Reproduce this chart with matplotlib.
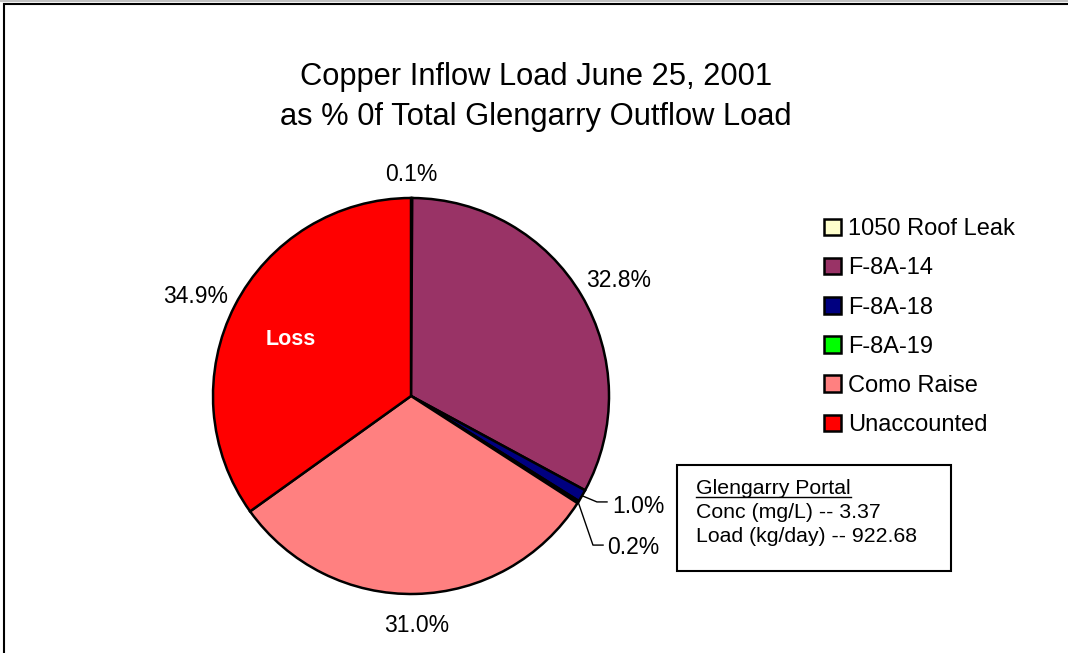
import matplotlib
matplotlib.use("Agg")
import matplotlib.pyplot as plt
from matplotlib.patches import Rectangle, Patch
from matplotlib.lines import Line2D
import numpy as np

plt.rcParams['font.family'] = ['Liberation Sans', 'DejaVu Sans']

categories = ["1050 Roof Leak", "F-8A-14", "F-8A-18", "F-8A-19", "Como Raise", "Unaccounted"]
values = [0.1, 32.8, 1.0, 0.2, 31.0, 34.9]
pct_labels = ["0.1%", "32.8%", "1.0%", "0.2%", "31.0%", "34.9%"]
colors = ["#FFFFCC", "#993366", "#000080", "#00FF00", "#FF8080", "#FF0000"]
title_lines = ["Copper Inflow Load June 25, 2001", "as % 0f Total Glengarry Outflow Load"]
box_title = "Glengarry Portal"
box_lines = ["Conc (mg/L) -- 3.37", "Load (kg/day) -- 922.68"]

W, H = 1068, 653
fig = plt.figure(figsize=(W / 100, H / 100), dpi=100)

def fx(px):
    return px / W

def fy(py):
    return 1 - py / H

# frame
fig.add_artist(Line2D([0, 1], [fy(1), fy(1)], color="#c0c0c0", lw=1.5, transform=fig.transFigure))
fig.add_artist(Rectangle((fx(4), fy(700)), fx(1100), fy(4) - fy(700), fill=False,
                         edgecolor="black", lw=1.5, transform=fig.transFigure))

# title
fig.text(fx(536), fy(77), title_lines[0], ha="center", va="center", fontsize=22.2)
fig.text(fx(536), fy(117), title_lines[1], ha="center", va="center", fontsize=22.2)

cx, cy, r = 411, 396, 198
ax = fig.add_axes([fx(cx - r), fy(cy + r), fx(2 * r), fy(cy - r) - fy(cy + r)])

wedges, _ = ax.pie(values, colors=colors, startangle=90, counterclock=False, radius=1,
                   wedgeprops=dict(edgecolor="black", linewidth=1.8))
ax.set_xlim(-1, 1)
ax.set_ylim(-1, 1)
ax.set_aspect("equal")
ax.axis("off")

# (distance, angle offset in degrees) for the outside labels
label_pos = [(1.12, 0), (1.2, -1.5), None, None, (1.16, 0), (1.2, 2.3)]
for w, lab, p in zip(wedges, pct_labels, label_pos):
    if p is None:
        continue
    d, off = p
    ang = np.deg2rad((w.theta1 + w.theta2) / 2 + off)
    ax.text(d * np.cos(ang), d * np.sin(ang), lab, ha="center", va="center",
            fontsize=16.5, clip_on=False)

# leader labels for small slices: (index, knee x, knee y, line end x, text x, text y)
for idx, kx, ky, lx, tx, ty in [(2, 0.939, -0.535, 0.99, 1.015, -0.557),
                                (3, 0.919, -0.753, 0.97, 0.99, -0.765)]:
    w = wedges[idx]
    ang = np.deg2rad((w.theta1 + w.theta2) / 2)
    ex, ey = np.cos(ang), np.sin(ang)
    ax.plot([ex, kx, lx], [ey, ky, ky], color="black", lw=1.0, clip_on=False)
    ax.text(tx, ty, pct_labels[idx], ha="left", va="center", fontsize=16.5, clip_on=False)

# Loss label
ax.text(-0.607, 0.283, "Loss", color="white", fontweight="bold", fontsize=15.5,
        ha="center", va="center")

# legend
handles = [Patch(facecolor=c, edgecolor="black", linewidth=1.8) for c in colors]
fig.legend(handles, categories, loc="upper left", bbox_to_anchor=(fx(817), fy(211)),
           frameon=False, fontsize=17, handlelength=0.7, handleheight=0.7,
           handletextpad=0.3, labelspacing=0.73, borderaxespad=0, borderpad=0.3)

# info box
fig.add_artist(Rectangle((fx(677), fy(571)), fx(951) - fx(677), fy(465) - fy(571), fill=False,
                         edgecolor="black", lw=1.5, transform=fig.transFigure))
t0 = fig.text(fx(696), fy(489), box_title, ha="left", va="center", fontsize=15.3)
fig.text(fx(696), fy(512), box_lines[0], ha="left", va="center", fontsize=15.3)
fig.text(fx(696), fy(536), box_lines[1], ha="left", va="center", fontsize=15.3)

fig.canvas.draw()
bb = t0.get_window_extent()
uy = bb.y0 + 2
fig.add_artist(Line2D([bb.x0 / W, bb.x1 / W], [uy / H, uy / H], color="black", lw=1.0,
                      transform=fig.transFigure))

fig.savefig("out.png", dpi=100)
